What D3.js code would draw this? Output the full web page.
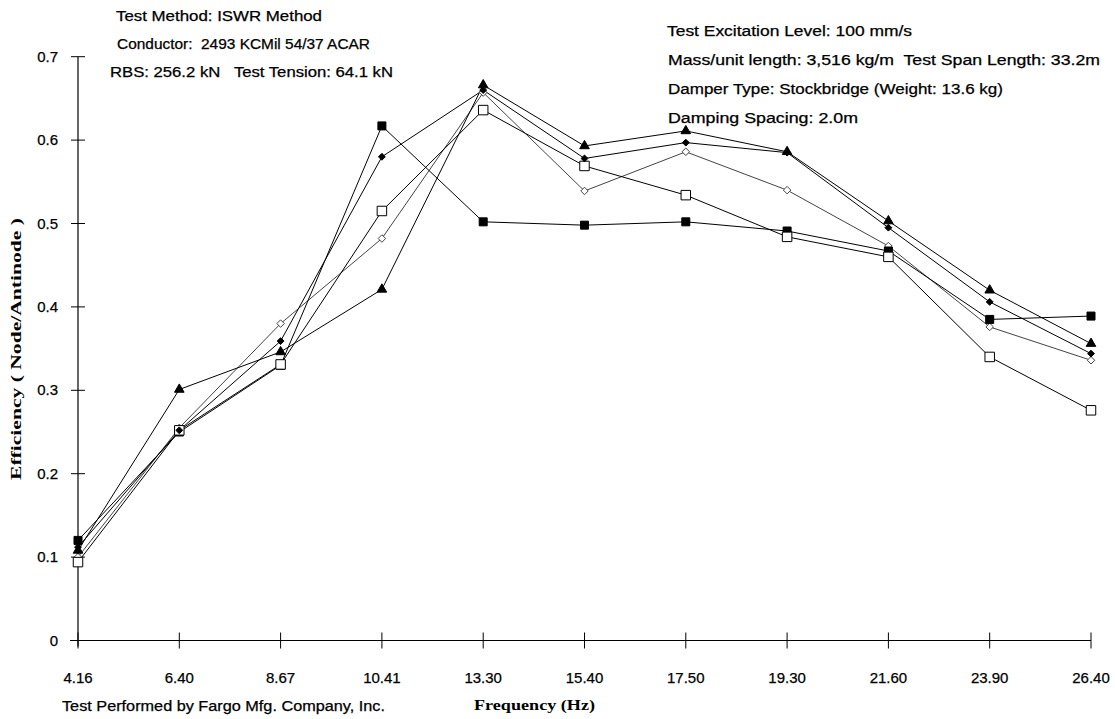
<!DOCTYPE html>
<html>
<head>
<meta charset="utf-8">
<script src="https://cdn.jsdelivr.net/npm/d3@7"></script>
<style>
  body { margin: 0; background: #fff; }
  text { font-family: "Liberation Sans", Arial, sans-serif; fill: #000; stroke: #000; stroke-width: 0.25px; white-space: pre; }
  .serif { font-family: "Liberation Serif", "Times New Roman", serif; font-weight: bold; stroke-width: 0; }
</style>
</head>
<body>
<div id="chart"></div>
<script>
// Chart size
const width = 1115;
const height = 719;

// Data
const frequencies = ["4.16", "6.40", "8.67", "10.41", "13.30", "15.40", "17.50", "19.30", "21.60", "23.90", "26.40"];
const filledSquare = [0.120, 0.250, 0.330, 0.617, 0.502, 0.498, 0.502, 0.491, 0.467, 0.385, 0.389];
const filledDiamond = [0.112, 0.252, 0.359, 0.580, 0.660, 0.578, 0.597, 0.585, 0.495, 0.406, 0.344];
const filledTriangle = [0.108, 0.301, 0.346, 0.421, 0.666, 0.593, 0.611, 0.586, 0.503, 0.420, 0.356];
const openSquare = [0.094, 0.252, 0.331, 0.515, 0.636, 0.569, 0.534, 0.484, 0.460, 0.340, 0.276];
const openDiamond = [0.100, 0.255, 0.380, 0.482, 0.657, 0.539, 0.586, 0.540, 0.473, 0.376, 0.336];
const yTicks = [0, 0.1, 0.2, 0.3, 0.4, 0.5, 0.6, 0.7];

const series = [
  {name: "openDiamond", values: openDiamond, symbol: d3.symbolDiamond2, size: 36, fill: "#fff", stroke: "#444"},
  {name: "filledSquare", values: filledSquare, symbol: d3.symbolSquare, size: 64, fill: "#000", stroke: "#000"},
  {name: "openSquare", values: openSquare, symbol: d3.symbolSquare, size: 90, fill: "#fff", stroke: "#000"},
  {name: "filledDiamond", values: filledDiamond, symbol: d3.symbolDiamond2, size: 30, fill: "#000", stroke: "#000"},
  {name: "filledTriangle", values: filledTriangle, symbol: d3.symbolTriangle, size: 40, fill: "#000", stroke: "#000"}
];

const svg = d3.select("#chart").append("svg")
    .attr("width", width)
    .attr("height", height);

// Scales
const x = d3.scalePoint()
    .domain(frequencies)
    .range([78, 1091]);

const y = d3.scaleLinear()
    .domain([0, 0.7])
    .range([640.5, 56.7]);

// Y axis (ticks cross the line)
const yAxis = svg.append("g").attr("transform", "translate(78,0)");
yAxis.append("line")
    .attr("y1", y(0.7)).attr("y2", y(0) + 6)
    .attr("stroke", "#000").attr("stroke-width", 1.2);
yAxis.selectAll(".tick")
    .data(yTicks)
    .enter().append("line")
    .attr("x1", -7).attr("x2", 7)
    .attr("y1", d => y(d)).attr("y2", d => y(d))
    .attr("stroke", "#000");
yAxis.selectAll(".lbl")
    .data(yTicks)
    .enter().append("text")
    .attr("x", -20)
    .attr("y", d => y(d) + 5)
    .attr("text-anchor", "end")
    .style("font-size", "15px")
    .text(d => d === 0 ? "0" : d3.format(".1f")(d));

// X axis
const xAxis = svg.append("g").attr("transform", "translate(0," + y(0) + ")");
xAxis.append("line")
    .attr("x1", 70).attr("x2", x("26.40"))
    .attr("stroke", "#000").attr("stroke-width", 1.2);
xAxis.selectAll(".tick")
    .data(frequencies)
    .enter().append("line")
    .attr("x1", d => x(d)).attr("x2", d => x(d))
    .attr("y1", -8).attr("y2", 8)
    .attr("stroke", "#000");
xAxis.selectAll(".lbl")
    .data(frequencies)
    .enter().append("text")
    .attr("x", d => x(d))
    .attr("y", 42)
    .attr("text-anchor", "middle")
    .style("font-size", "15px")
    .text(d => d);

// Lines
const line = d3.line()
    .x((d, i) => x(frequencies[i]))
    .y(d => y(d));

series.forEach(s => {
  svg.append("path")
      .datum(s.values)
      .attr("d", line)
      .attr("fill", "none")
      .attr("stroke", s.stroke)
      .attr("stroke-width", 1);
});

// Markers on top
series.forEach(s => {
  svg.append("g").selectAll("path")
      .data(s.values)
      .enter().append("path")
      .attr("transform", (d, i) => "translate(" + x(frequencies[i]) + "," + y(d) + ")")
      .attr("d", d3.symbol().type(s.symbol).size(s.size))
      .attr("fill", s.fill)
      .attr("stroke", s.stroke)
      .attr("stroke-width", 1);
});

// Axis titles (scan is stretched wide, so fit text to measured width)
svg.append("text")
    .attr("class", "serif")
    .attr("transform", "translate(21,349) rotate(-90)")
    .attr("text-anchor", "middle")
    .attr("textLength", 262)
    .attr("lengthAdjust", "spacingAndGlyphs")
    .style("font-size", "15px")
    .text("Efficiency ( Node/Antinode )");

svg.append("text")
    .attr("class", "serif")
    .attr("x", 474).attr("y", 710)
    .attr("textLength", 121)
    .attr("lengthAdjust", "spacingAndGlyphs")
    .style("font-size", "15px")
    .text("Frequency (Hz)");

// Test notes
const notes = [
  {x: 116, y: 21, w: 206, t: "Test Method: ISWR Method"},
  {x: 117, y: 49, w: 253, t: "Conductor:  2493 KCMil 54/37 ACAR"},
  {x: 110, y: 77, w: 283, t: "RBS: 256.2 kN   Test Tension: 64.1 kN"},
  {x: 667, y: 36, w: 245, t: "Test Excitation Level: 100 mm/s"},
  {x: 668, y: 65, w: 432, t: "Mass/unit length: 3,516 kg/m  Test Span Length: 33.2m"},
  {x: 668, y: 94, w: 335, t: "Damper Type: Stockbridge (Weight: 13.6 kg)"},
  {x: 668, y: 123, w: 190, t: "Damping Spacing: 2.0m"},
  {x: 62, y: 711, w: 323, t: "Test Performed by Fargo Mfg. Company, Inc."}
];
svg.selectAll(".note")
    .data(notes)
    .enter().append("text")
    .attr("x", d => d.x).attr("y", d => d.y)
    .attr("textLength", d => d.w)
    .attr("lengthAdjust", "spacingAndGlyphs")
    .style("font-size", "14px")
    .text(d => d.t);
</script>
</body>
</html>
